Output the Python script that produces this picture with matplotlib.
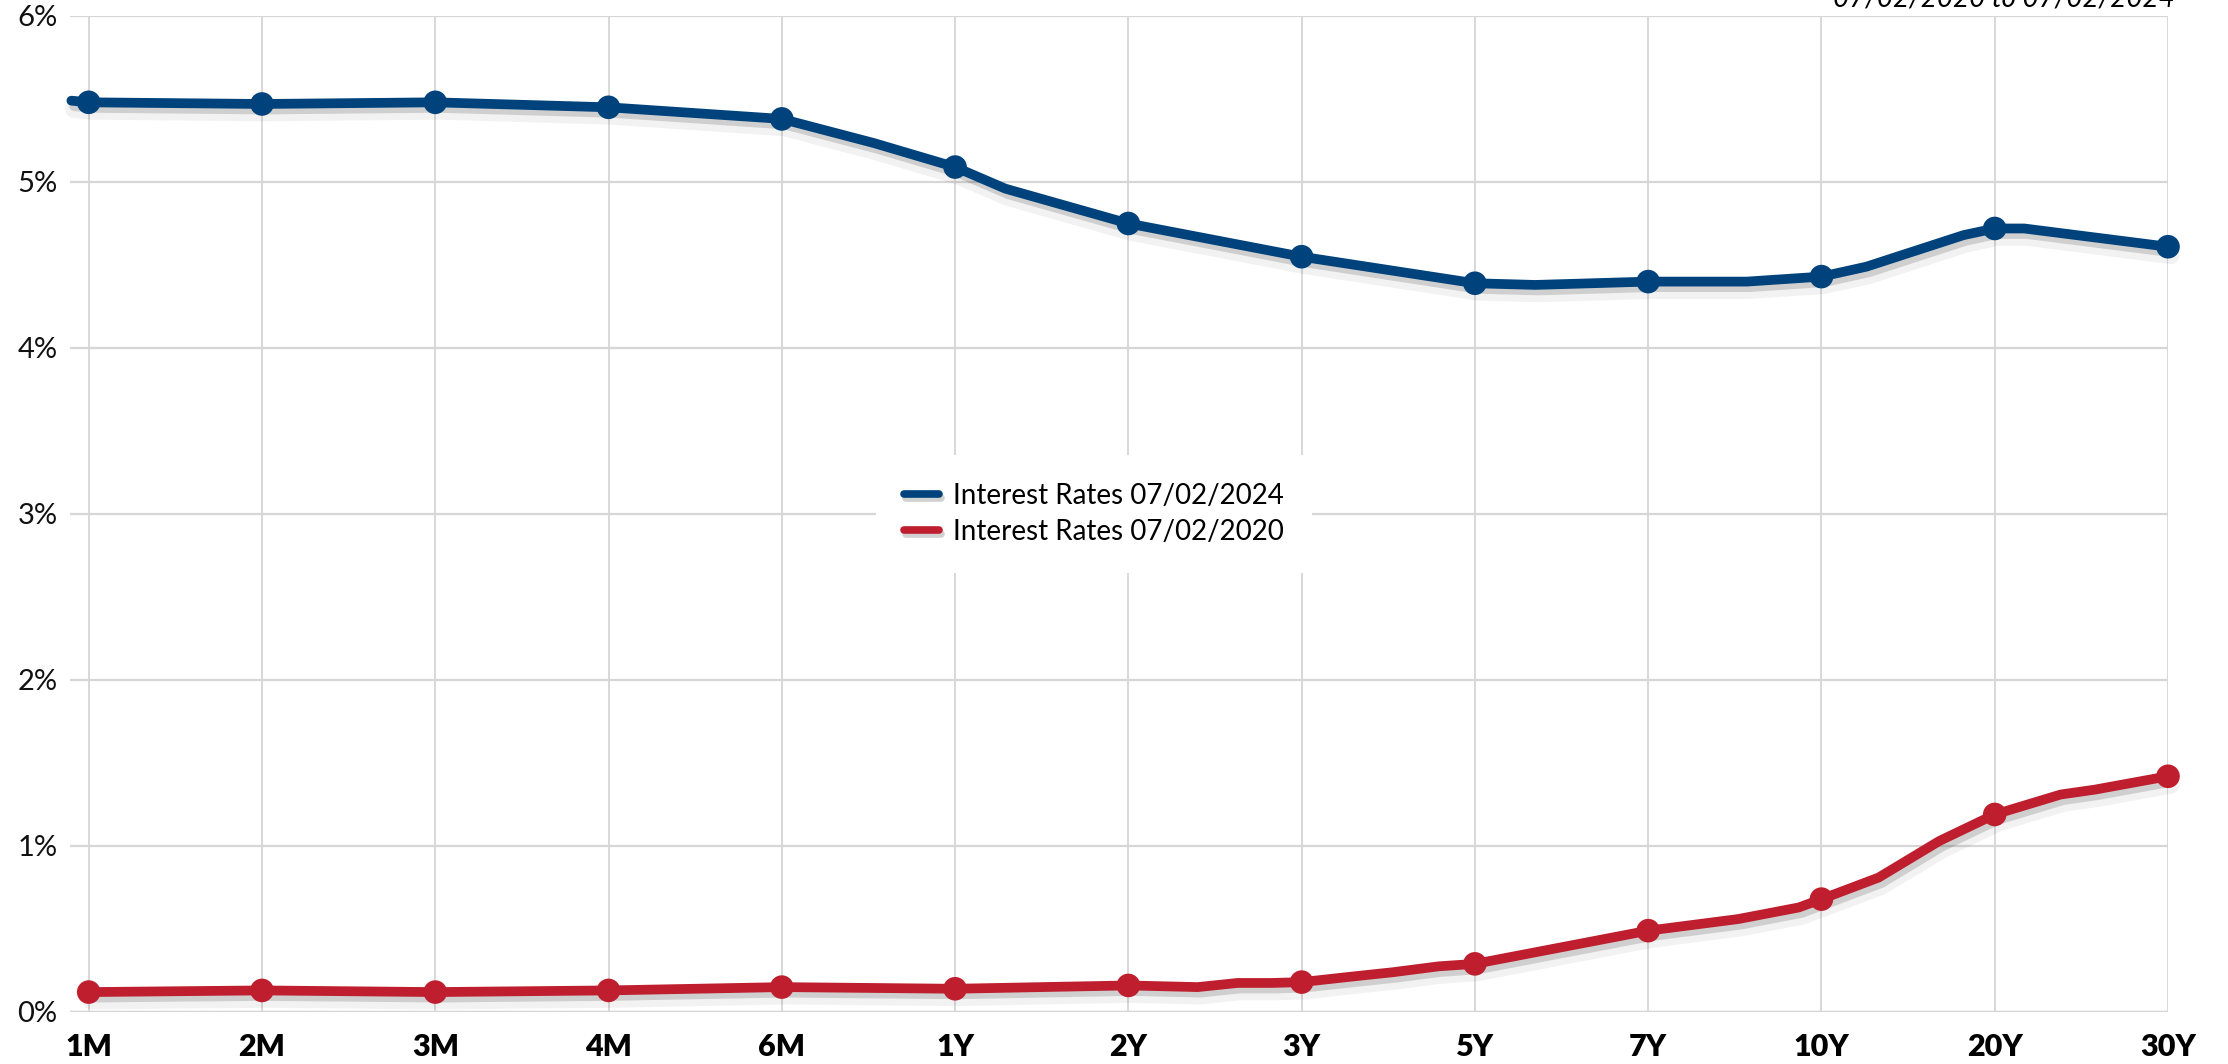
import matplotlib
matplotlib.use("Agg")
import matplotlib.pyplot as plt
import matplotlib.patheffects as pe
from matplotlib.lines import Line2D
from matplotlib.ticker import FuncFormatter

# ── data ───────────────────────────────────────────────────────────────
tenors = ["1M", "2M", "3M", "4M", "6M", "1Y", "2Y", "3Y", "5Y", "7Y", "10Y", "20Y", "30Y"]
rates_2024 = [5.48, 5.47, 5.48, 5.45, 5.38, 5.09, 4.75, 4.55, 4.39, 4.40, 4.43, 4.72, 4.61]
rates_2020 = [0.12, 0.13, 0.12, 0.13, 0.15, 0.14, 0.16, 0.18, 0.29, 0.49, 0.68, 1.19, 1.42]

# line path incl. the unmarked bends (x = tenor index, fractional between tenors)
path_x_2024 = [-0.10, 0, 1, 2, 3, 4, 4.53, 5, 5.29, 6, 7, 8, 8.35, 9, 9.57, 10, 10.26, 10.82, 11, 11.17, 12]
path_y_2024 = [5.49, 5.48, 5.47, 5.48, 5.45, 5.38, 5.235, 5.09, 4.96, 4.75, 4.55, 4.39, 4.38, 4.40, 4.40, 4.43, 4.49, 4.68, 4.72, 4.72, 4.61]
path_x_2020 = [0, 1, 2, 3, 4, 5, 6, 6.40, 6.63, 6.83, 7, 7.26, 7.53, 7.79, 8, 8.5, 9, 9.52, 9.87, 10, 10.33, 10.68, 11, 11.38, 11.58, 12]
path_y_2020 = [0.12, 0.13, 0.12, 0.13, 0.15, 0.14, 0.16, 0.15, 0.175, 0.175, 0.18, 0.21, 0.24, 0.275, 0.29, 0.39, 0.49, 0.56, 0.63, 0.68, 0.81, 1.03, 1.19, 1.31, 1.34, 1.42]

labels = ["Interest Rates 07/02/2024", "Interest Rates 07/02/2020"]
title = "07/02/2020 to 07/02/2024"

BLUE = "#00427c"
RED = "#be1e2d"
GRID = "#d6d6d6"
FONT = "Lato"

# soft drop shadow under the lines
shadow = [
    pe.SimpleLineShadow(offset=(2, -6), shadow_color="black", alpha=0.05, linewidth=13),
    pe.SimpleLineShadow(offset=(2, -4), shadow_color="black", alpha=0.14),
    pe.Normal(),
]

fig = plt.figure(figsize=(22.28, 10.64), dpi=100)
ax = fig.add_axes([70 / 2228, 1 - 1012 / 1064, 2098 / 2228, 996 / 1064])

for px, py, vals, col in [(path_x_2024, path_y_2024, rates_2024, BLUE),
                          (path_x_2020, path_y_2020, rates_2020, RED)]:
    ax.plot(px, py, color=col, lw=7, solid_capstyle="round", solid_joinstyle="round",
            path_effects=shadow, clip_on=False, zorder=3)
    ax.plot(range(len(tenors)), vals, "o", color=col, ms=17, mew=0,
            path_effects=shadow[1:], clip_on=False, zorder=4)

ax.set_xlim(-0.108, 12)
ax.set_ylim(0, 6)
ax.set_xticks(range(len(tenors)))
ax.set_xticklabels(tenors, fontfamily=FONT, fontweight="heavy", fontsize=22)
ax.set_yticks(range(7))
ax.yaxis.set_major_formatter(FuncFormatter(lambda v, _: f"{v:.0f}%"))
for t in ax.get_yticklabels():
    t.set_fontfamily(FONT)
    t.set_fontsize(21)
ax.tick_params(axis="x", length=0, pad=15, colors="black")
ax.tick_params(axis="y", length=0, pad=9, colors="#111111")

ax.grid(axis="y", color=GRID, lw=1.6, zorder=0)
ax.grid(axis="x", color=GRID, lw=1.3, zorder=0)
for s in ax.spines.values():
    s.set_visible(False)
ax.axhline(0, color="#cfcfcf", lw=2.4, zorder=1)

handles = [Line2D([], [], color=c, lw=5.5, solid_capstyle="round",
                  path_effects=[pe.SimpleLineShadow(offset=(1.5, -3), alpha=0.18), pe.Normal()])
           for c in (BLUE, RED)]
leg = fig.legend(handles, labels, loc="center", bbox_to_anchor=(1094 / 2228, 1 - 514 / 1064),
                 prop={"family": FONT, "size": 20}, frameon=True, facecolor="white",
                 edgecolor="none", framealpha=1, handlelength=1.25, handletextpad=0.5,
                 borderpad=1.0, labelspacing=0.36, fancybox=False)
leg.set_zorder(10)

fig.text(2175 / 2228, 1 - 7 / 1064, title, ha="right", va="baseline",
         fontfamily=FONT, fontstyle="italic", fontsize=20)

fig.savefig("out.png", dpi=100, facecolor="white")
